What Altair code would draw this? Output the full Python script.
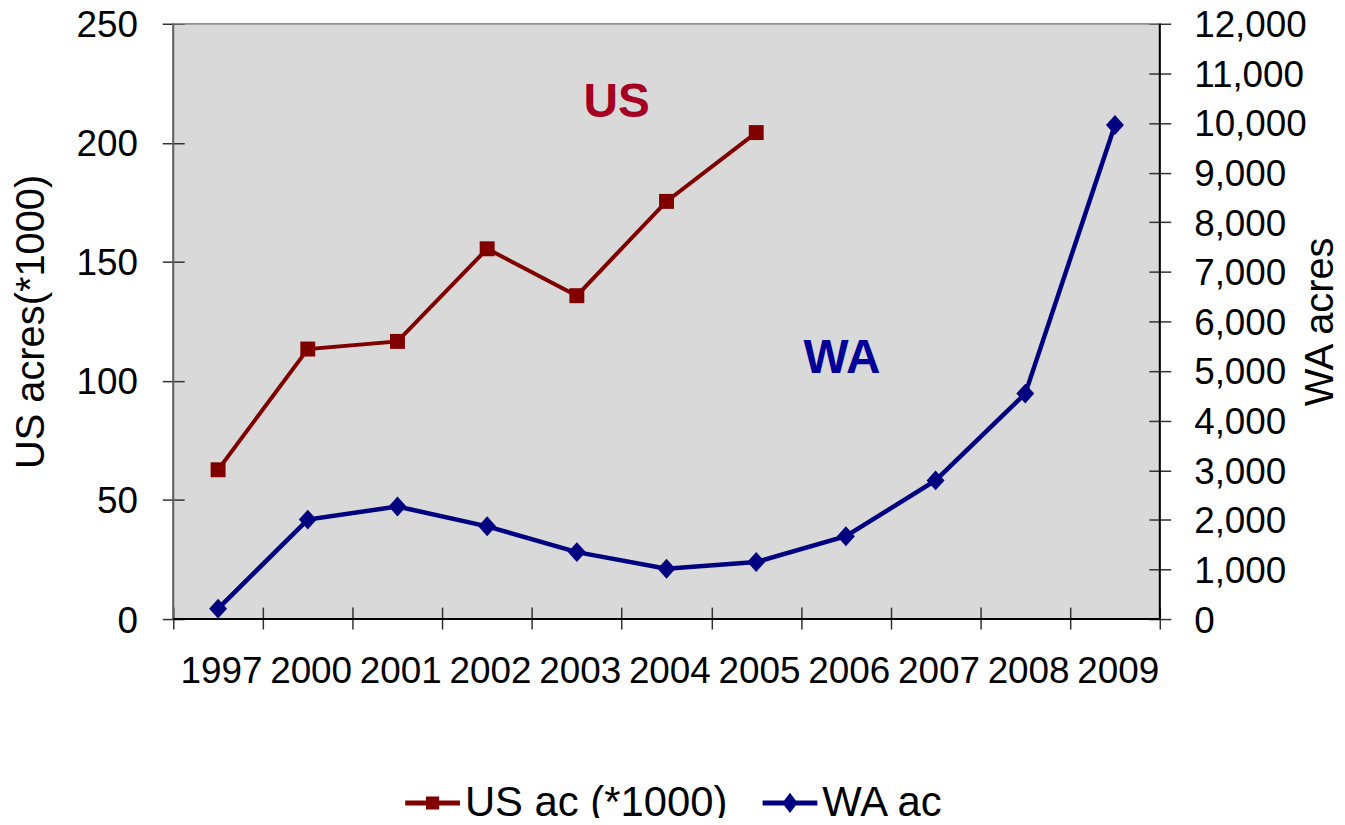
import altair as alt
import pandas as pd

# ---- data ----
years = ["1997", "2000", "2001", "2002", "2003", "2004", "2005", "2006", "2007", "2008", "2009"]
us_years = ["1997", "2000", "2001", "2002", "2003", "2004", "2005"]
us_values = [62.7, 113.4, 116.6, 155.5, 135.8, 175.4, 204.3]
wa_values = [210, 2005, 2270, 1870, 1350, 1015, 1150, 1670, 2795, 4545, 9960]
series_names = ["US ac (*1000)", "WA ac"]
us_ticks = [0, 50, 100, 150, 200, 250]
wa_ticks = [0, 1000, 2000, 3000, 4000, 5000, 6000, 7000, 8000, 9000, 10000, 11000, 12000]
ann_labels = ["US", "WA"]
ann_years = ["2004", "2006"]
ann_values = [211, 103.3]

FONT = "Liberation Sans"
US_COLOR = "#800000"
WA_COLOR = "#000080"
ANN_COLORS = ["#A50021", "#000099"]
ANN_DX = [-5, -4]
ANN_BAND = [0, 0.5]

us_df = pd.DataFrame({"year": us_years, "value": us_values, "series": series_names[0]})
wa_df = pd.DataFrame({"year": years, "value": wa_values, "series": series_names[1]})
legend_df = pd.concat([us_df, wa_df], ignore_index=True)
one_df = pd.DataFrame({"k": [0]})

W, H = 991, 598

x_scale = alt.Scale(type="band", domain=years, paddingInner=0, paddingOuter=0)
x_enc = alt.X(
    "year:N", scale=x_scale, sort=years,
    axis=alt.Axis(title=None, tickBand="extent", offset=-12, tickSize=22, domain=False,
                  labelPadding=43, labelOffset=44, labelFontSize=37, labelAngle=0,
                  tickColor="#333333", tickWidth=1.5, labelColor="black", labelFont=FONT,
                  labelOverlap=False),
)

left_scale = alt.Scale(domain=[0, 250], nice=False, zero=True)
right_scale = alt.Scale(domain=[0, 12000], nice=False, zero=True)

left_y = alt.Y(
    "value:Q", scale=left_scale,
    axis=alt.Axis(title="US acres(*1000)", values=us_ticks, offset=-11, tickSize=22,
                  domain=False, grid=False, labelPadding=25, titlePadding=25,
                  labelOffset=2, labelFontSize=37, titleFontSize=40, titleFontWeight="normal",
                  labelFont=FONT, titleFont=FONT, labelColor="black", titleColor="black",
                  tickColor="#333333", tickWidth=1.5),
)
right_y = alt.Y(
    "value:Q", scale=right_scale,
    axis=alt.Axis(title="WA acres", orient="right", values=wa_ticks,
                  labelExpr="format(datum.value, ',')",
                  offset=-11, tickSize=22, domain=False, grid=False, labelPadding=23,
                  titlePadding=-6, titleAngle=270, titleBaseline="top",
                  labelOffset=2, labelFontSize=37, titleFontSize=40, titleFontWeight="normal",
                  labelFont=FONT, titleFont=FONT, labelColor="black", titleColor="black",
                  tickColor="#333333", tickWidth=1.5),
)

# axis lines drawn through the scales
left_line_rule = alt.Chart(one_df).mark_rule(color="#606060", strokeWidth=2).encode(
    x=alt.XDatum("1997", type="nominal", bandPosition=0))
top_rule = alt.Chart(one_df).mark_rule(color="#909090", strokeWidth=1.5).encode(
    y=alt.YDatum(250, scale=left_scale))

us_line = alt.Chart(us_df).mark_line(color=US_COLOR, strokeWidth=4).encode(x=x_enc, y=left_y)
us_pts = alt.Chart(us_df).mark_point(shape="square", filled=True, size=225, opacity=1,
                                      color=US_COLOR).encode(x=x_enc, y=left_y)

ann_layers = []
for lab, yr, val, col, dx, bp in zip(ann_labels, ann_years, ann_values, ANN_COLORS, ANN_DX, ANN_BAND):
    ann_df = pd.DataFrame({"label": [lab], "year": [yr], "value": [val]})
    ann_layers.append(
        alt.Chart(ann_df).mark_text(font=FONT, fontSize=48, fontWeight="bold", color=col,
                                    align="center", baseline="alphabetic", dx=dx).encode(
            x=alt.X("year:N", bandPosition=bp), y=alt.Y("value:Q"), text="label:N")
    )

us_path = "M-1,-0.09H1V0.09H-1Z M-0.24,-0.24H0.24V0.24H-0.24Z"
wa_path = "M-1,-0.09H1V0.09H-1Z M0,-0.37L0.28,0L0,0.37L-0.28,0Z"
leg = alt.Legend(orient="none", legendX=233, legendY=755, direction="horizontal", title=None,
                 labelFontSize=42, labelFont=FONT, labelColor="black", symbolSize=3025,
                 symbolOpacity=1, symbolStrokeWidth=0, columnPadding=35, labelOffset=5,
                 padding=0, labelLimit=500)
legend_layer = alt.Chart(legend_df).mark_point(filled=True, opacity=0, size=1).encode(
    x=alt.X("year:N"), y=alt.value(0),
    color=alt.Color("series:N", scale=alt.Scale(domain=series_names, range=[US_COLOR, WA_COLOR]), legend=leg),
    shape=alt.Shape("series:N", scale=alt.Scale(domain=series_names, range=[us_path, wa_path]), legend=leg),
)

left = alt.layer(top_rule, left_line_rule, us_line, us_pts, *ann_layers, legend_layer)

bottom_rule = alt.Chart(one_df).mark_rule(color="black", strokeWidth=2).encode(
    y=alt.YDatum(0, scale=right_scale))
right_rule = alt.Chart(one_df).mark_rule(color="black", strokeWidth=2).encode(
    x=alt.XDatum("2009", type="nominal", bandPosition=1))
wa_line = alt.Chart(wa_df).mark_line(color=WA_COLOR, strokeWidth=4.5).encode(x=x_enc, y=right_y)
wa_pts = alt.Chart(wa_df).mark_point(shape="M0,-1L0.9,0L0,1L-0.9,0Z", filled=True, size=400,
                                      opacity=1, color=WA_COLOR).encode(x=x_enc, y=right_y)
right = alt.layer(bottom_rule, right_rule, wa_line, wa_pts)

chart = (
    alt.layer(left, right)
    .resolve_scale(y="independent")
    .properties(width=W, height=H, autosize=alt.AutoSizeParams(type="none"),
                padding={"left": 166, "top": 14, "right": 178, "bottom": 198},
                background="white")
    .configure_view(fill="#D9D9D9", stroke="#909090", strokeWidth=1.5)
)

chart.save("out.html", embed_options={"renderer": "svg", "actions": False})
